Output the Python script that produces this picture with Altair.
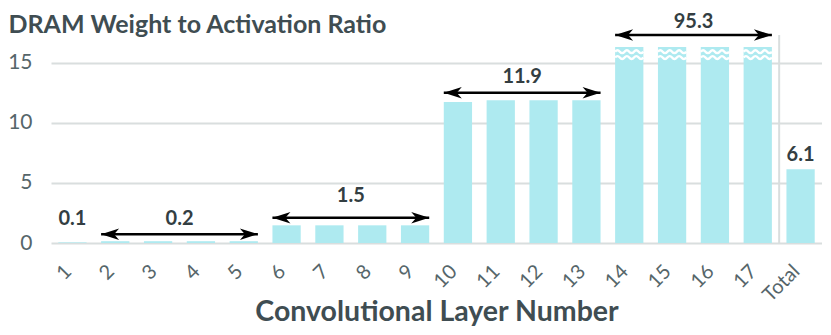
import altair as alt
import pandas as pd

# ---------------- data ----------------
categories = [str(i) for i in range(1, 18)] + ["Total"]
values = [0.05, 0.15, 0.15, 0.15, 0.15, 1.47, 1.47, 1.47, 1.47,
          11.73, 11.88, 11.88, 11.88, 16.3, 16.3, 16.3, 16.3, 6.13]
broken = ["14", "15", "16", "17"]
break_value = 15.68

ann_text = ["0.1", "0.2", "1.5", "11.9", "95.3", "6.1"]
ann_first = ["1", "2", "6", "10", "14", "Total"]
ann_last = ["1", "5", "9", "13", "17", "Total"]
ann_text_y = [1.5, 1.5, 3.45, 13.3, 17.85, 6.8]

arrow_first = ["2", "6", "10", "14"]
arrow_last = ["5", "9", "13", "17"]
arrow_y = [0.73, 2.1, 12.5, 17.3]

y_ticks = [0, 5, 10, 15]
Y_MAX = 17.3

# ---------------- style ----------------
W, H = 771, 208
PAD_IN, PAD_OUT = 0.34, 0.17
HALF = (1 - PAD_IN) / 2
BW = W / len(categories) * (1 - PAD_IN)
BAR = "#aeeaf0"
GRID = "#d9dede"
DARK = "#3f4d52"
LABEL = "#56666a"
VAL = "#333e42"
FONT = "Lato"

LEFT_HEAD = "M0,0 L1.8,-0.58 L1.3,0 L1.8,0.58 Z"
RIGHT_HEAD = "M0,0 L-1.8,-0.58 L-1.3,0 L-1.8,0.58 Z"


def wave(y0):
    pts = [-1, -0.667, -0.333, 0, 0.333, 0.667, 1]
    d = f"M-1,{y0}"
    for i in range(6):
        cx = (pts[i] + pts[i + 1]) / 2
        cy = y0 - 0.2 if i % 2 == 0 else y0 + 0.2
        d += f" Q{cx:.3f},{cy:.2f} {pts[i+1]},{y0}"
    return d


WAVE = wave(-0.2) + " " + wave(0.22)

idx = {c: i for i, c in enumerate(categories)}

bars_df = pd.DataFrame({"category": categories, "value": values})
ann_df = pd.DataFrame({
    "text": ann_text,
    "x": [(idx[a] + idx[b]) / 2 for a, b in zip(ann_first, ann_last)],
    "value": ann_text_y,
})
arrow_df = pd.DataFrame({
    "xl": [idx[a] - HALF for a in arrow_first],
    "xr": [idx[b] + HALF for b in arrow_last],
    "value": arrow_y,
})
wave_df = pd.DataFrame({"x": [idx[c] for c in broken], "value": [break_value] * len(broken)})
sep_df = pd.DataFrame({"x": [idx["Total"] - 0.5], "value": [Y_MAX], "v2": [0]})

qx = alt.Scale(domain=[-0.5, len(categories) - 0.5], nice=False, zero=False)
ys = alt.Scale(domain=[0, Y_MAX], nice=False, zero=True)

Y_AXIS = alt.Axis(title="DRAM Weight to Activation Ratio", values=y_ticks,
                  titleAngle=0, titleAlign="left", titleBaseline="alphabetic",
                  titleX=-43, titleY=-3, titleFont=FONT, titleFontSize=25,
                  titleFontWeight="bold", titleColor=DARK,
                  labelFont=FONT, labelFontSize=21, labelColor=LABEL,
                  labelPadding=19, ticks=False, tickSize=0, domain=False,
                  grid=True, gridColor=GRID, gridWidth=2)


def Y():
    return alt.Y("value:Q", scale=ys, axis=Y_AXIS)


def QX(field):
    return alt.X(field, scale=qx, axis=None)


bars = alt.Chart(bars_df).mark_bar(color=BAR).encode(
    x=alt.X("category:N", sort=categories,
            scale=alt.Scale(paddingInner=PAD_IN, paddingOuter=PAD_OUT),
            axis=alt.Axis(title="Convolutional Layer Number", labelAngle=-45,
                          labelAlign="right", labelBaseline="middle",
                          labelPadding=25, labelOffset=-4, labelOverlap=False,
                          labelFont=FONT, labelFontSize=20, labelColor=LABEL,
                          ticks=False, tickSize=0, domain=False, grid=False,
                          titleFont=FONT, titleFontSize=28.5, titleFontWeight="bold",
                          titleColor=DARK, titleY=77, titleBaseline="alphabetic")),
    y=Y(),
)

waves = alt.Chart(wave_df).mark_point(shape=WAVE, filled=False, size=BW ** 2,
                                      stroke="white", strokeWidth=2.4, opacity=1).encode(
    x=QX("x:Q"), y=Y(),
)

sep = alt.Chart(sep_df).mark_rule(color=GRID, strokeWidth=2).encode(
    x=QX("x:Q"), y=Y(), y2="v2:Q",
)

lines = alt.Chart(arrow_df).mark_rule(color="black", strokeWidth=2.5).encode(
    x=QX("xl:Q"), x2="xr:Q", y=Y(),
)

heads_l = alt.Chart(arrow_df).mark_point(shape=LEFT_HEAD, filled=True, size=400,
                                         color="black", opacity=1, strokeWidth=0).encode(
    x=QX("xl:Q"), y=Y(),
)
heads_r = alt.Chart(arrow_df).mark_point(shape=RIGHT_HEAD, filled=True, size=400,
                                         color="black", opacity=1, strokeWidth=0).encode(
    x=QX("xr:Q"), y=Y(),
)

texts = alt.Chart(ann_df).mark_text(font=FONT, fontWeight="bold", fontSize=20,
                                    color=VAL, baseline="alphabetic", align="center").encode(
    x=QX("x:Q"), y=Y(), text="text:N",
)

chart = alt.layer(bars, waves, sep, lines, heads_l, heads_r, texts).resolve_scale(
    x="independent"
).properties(
    width=W, height=H,
    padding={"left": 43, "top": 27, "right": 0, "bottom": 84},
    autosize=alt.AutoSizeParams(type="none"),
).configure_view(stroke=None)

chart.save("out.html", embed_options={"renderer": "svg", "actions": False})
